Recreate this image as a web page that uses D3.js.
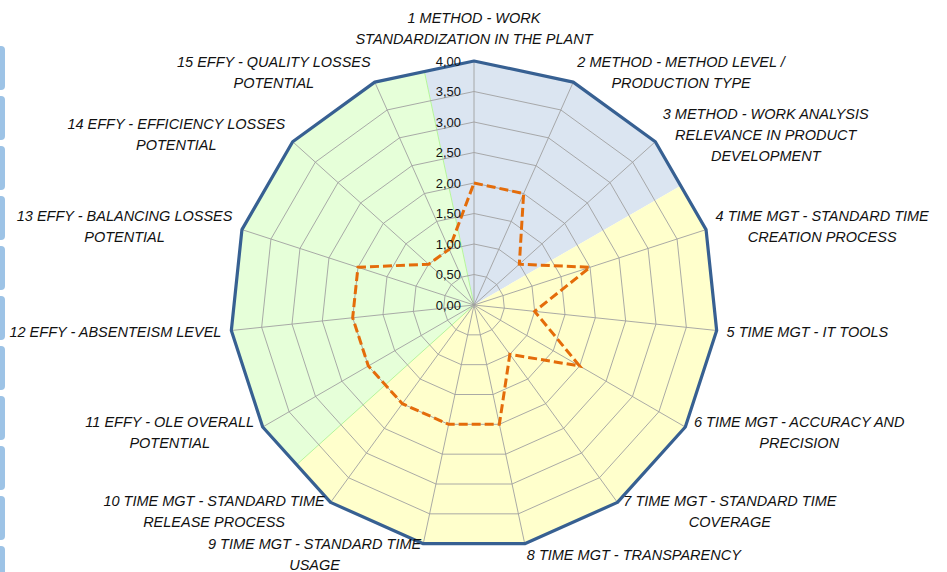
<!DOCTYPE html>
<html>
<head>
<meta charset="utf-8">
<script src="https://cdn.jsdelivr.net/npm/d3@7"></script>
<style>
  body { margin: 0; background: #fff; }
  svg { display: block; }
  .axis-label { font-family: "Liberation Sans", Arial, sans-serif; font-style: italic; font-size: 14.5px; fill: #111; }
  .tick-label { font-family: "Liberation Sans", Arial, sans-serif; font-size: 13px; fill: #111; }
</style>
</head>
<body>
<div id="chart"></div>
<script>
// Axis labels (line breaks as in the original chart)
const categories = [
  "1 METHOD - WORK|STANDARDIZATION IN THE PLANT",
  "2 METHOD - METHOD LEVEL /|PRODUCTION TYPE",
  "3 METHOD - WORK ANALYSIS|RELEVANCE IN PRODUCT|DEVELOPMENT",
  "4 TIME MGT - STANDARD TIME|CREATION PROCESS",
  "5 TIME MGT - IT TOOLS",
  "6 TIME MGT - ACCURACY AND|PRECISION",
  "7 TIME MGT - STANDARD TIME|COVERAGE",
  "8 TIME MGT - TRANSPARENCY",
  "9 TIME MGT - STANDARD TIME|USAGE",
  "10 TIME MGT - STANDARD TIME|RELEASE PROCESS",
  "11 EFFY - OLE OVERALL|POTENTIAL",
  "12 EFFY - ABSENTEISM LEVEL",
  "13 EFFY - BALANCING LOSSES|POTENTIAL",
  "14 EFFY - EFFICIENCY LOSSES|POTENTIAL",
  "15 EFFY - QUALITY LOSSES|POTENTIAL"
];
// Area each axis belongs to (background sectors)
const areas = ["METHOD", "METHOD", "METHOD",
  "TIME", "TIME", "TIME", "TIME", "TIME", "TIME", "TIME",
  "EFFY", "EFFY", "EFFY", "EFFY", "EFFY"];
// Scores
const scores = [2, 2, 1, 2, 1, 2, 1, 2, 2, 2, 2, 2, 2, 1, 1];
// Maximum (outer line)
const maxScores = [4, 4, 4, 4, 4, 4, 4, 4, 4, 4, 4, 4, 4, 4, 4];
// Value axis ticks
const tickValues = [0, 0.5, 1, 1.5, 2, 2.5, 3, 3.5, 4];

const areaColors = { METHOD: "#DBE5F1", TIME: "#FFFFCC", EFFY: "#E6FFD9" };

const W = 947, H = 572;
const cx = 474, cy = 305, R = 244;

const svg = d3.select("#chart").append("svg")
  .attr("width", W).attr("height", H);

// decorative slicer-like tabs cut off at the left edge
const tabs = d3.range(11);
svg.append("g").selectAll("rect")
  .data(tabs)
  .join("rect")
  .attr("x", -8).attr("y", d => 46 + d * 50)
  .attr("width", 13).attr("height", 44)
  .attr("rx", 4)
  .attr("fill", "#9DC3E6");

const r = d3.scaleLinear().domain([0, 4]).range([0, R]);
const n = categories.length;
const angle = d3.scaleLinear().domain([0, n]).range([0, 2 * Math.PI]);

function pt(value, i) {
  const a = angle(i);
  return [cx + r(value) * Math.sin(a), cy - r(value) * Math.cos(a)];
}

const g = svg.append("g");

// background sectors, one per area, bounded by the outer polygon
const areaNames = Array.from(new Set(areas));
areaNames.forEach(name => {
  const idx = d3.range(n).filter(i => areas[i] === name);
  const first = idx[0], last = idx[idx.length - 1];
  const prev = (first - 1 + n) % n, next = (last + 1) % n;
  const mid = (i, j) => {
    const p = pt(maxScores[i], i), q = pt(maxScores[j], j);
    return [(p[0] + q[0]) / 2, (p[1] + q[1]) / 2];
  };
  const pts = [[cx, cy], mid(prev, first)]
    .concat(idx.map(i => pt(maxScores[i], i)))
    .concat([mid(last, next)]);
  g.append("path")
    .attr("d", d3.line()(pts) + "Z")
    .attr("fill", areaColors[name])
    .attr("stroke", name === "EFFY" ? "#B5F59A" : "none")
    .attr("stroke-width", 1);
});

// grid rings
g.selectAll(".ring")
  .data(tickValues.filter(v => v > 0))
  .join("path")
  .attr("class", "ring")
  .attr("d", v => d3.line()(d3.range(n).map(i => pt(v, i))) + "Z")
  .attr("fill", "none")
  .attr("stroke", "#A0A0A0")
  .attr("stroke-width", 0.9);

// spokes
g.selectAll(".spoke")
  .data(d3.range(n))
  .join("line")
  .attr("class", "spoke")
  .attr("x1", cx).attr("y1", cy)
  .attr("x2", i => pt(4, i)[0]).attr("y2", i => pt(4, i)[1])
  .attr("stroke", "#A0A0A0")
  .attr("stroke-width", 0.9);

// outer line
g.append("path")
  .attr("d", d3.line()(maxScores.map((v, i) => pt(v, i))) + "Z")
  .attr("fill", "none")
  .attr("stroke", "#376092")
  .attr("stroke-width", 3.2)
  .attr("stroke-linejoin", "round");

// score series
g.append("path")
  .attr("d", d3.line()(scores.map((v, i) => pt(v, i))) + "Z")
  .attr("fill", "none")
  .attr("stroke", "#E46C0A")
  .attr("stroke-width", 3)
  .attr("stroke-dasharray", "9,4");

// tick labels along the first axis
const fmt = v => d3.format(".2f")(v).replace(".", ",");
g.selectAll(".tick-label")
  .data(tickValues)
  .join("text")
  .attr("class", "tick-label")
  .attr("x", cx - 13)
  .attr("y", v => cy - r(v))
  .attr("dy", "0.35em")
  .attr("text-anchor", "end")
  .text(fmt);

// axis labels
const lineH = 21, capH = 10.4;
categories.forEach((label, i) => {
  const lines = label.split("|");
  const a = angle(i);
  const dx = Math.sin(a), dy = -Math.cos(a);
  const v = pt(4, i);
  const t = g.append("text").attr("class", "axis-label").attr("text-anchor", "middle");
  const spans = t.selectAll("tspan").data(lines).join("tspan").attr("x", 0).text(d => d);
  const w = d3.max(spans.nodes(), s => s.getComputedTextLength());
  const h = lines.length * lineH;
  let midX, centerY;
  if (Math.abs(dx) < 0.15) {
    midX = v[0];
    centerY = dy < 0 ? v[1] - 17 - h / 2 + (lineH - capH) / 2 : v[1] + 17 + h / 2;
  } else {
    const ax = v[0] + 10 * dx;
    midX = dx > 0 ? ax + w / 2 : ax - w / 2;
    centerY = v[1] + 11 * dy;
  }
  spans
    .attr("x", midX)
    .attr("y", (d, k) => centerY - h / 2 + lineH / 2 + k * lineH + capH / 2);
});
</script>
</body>
</html>
